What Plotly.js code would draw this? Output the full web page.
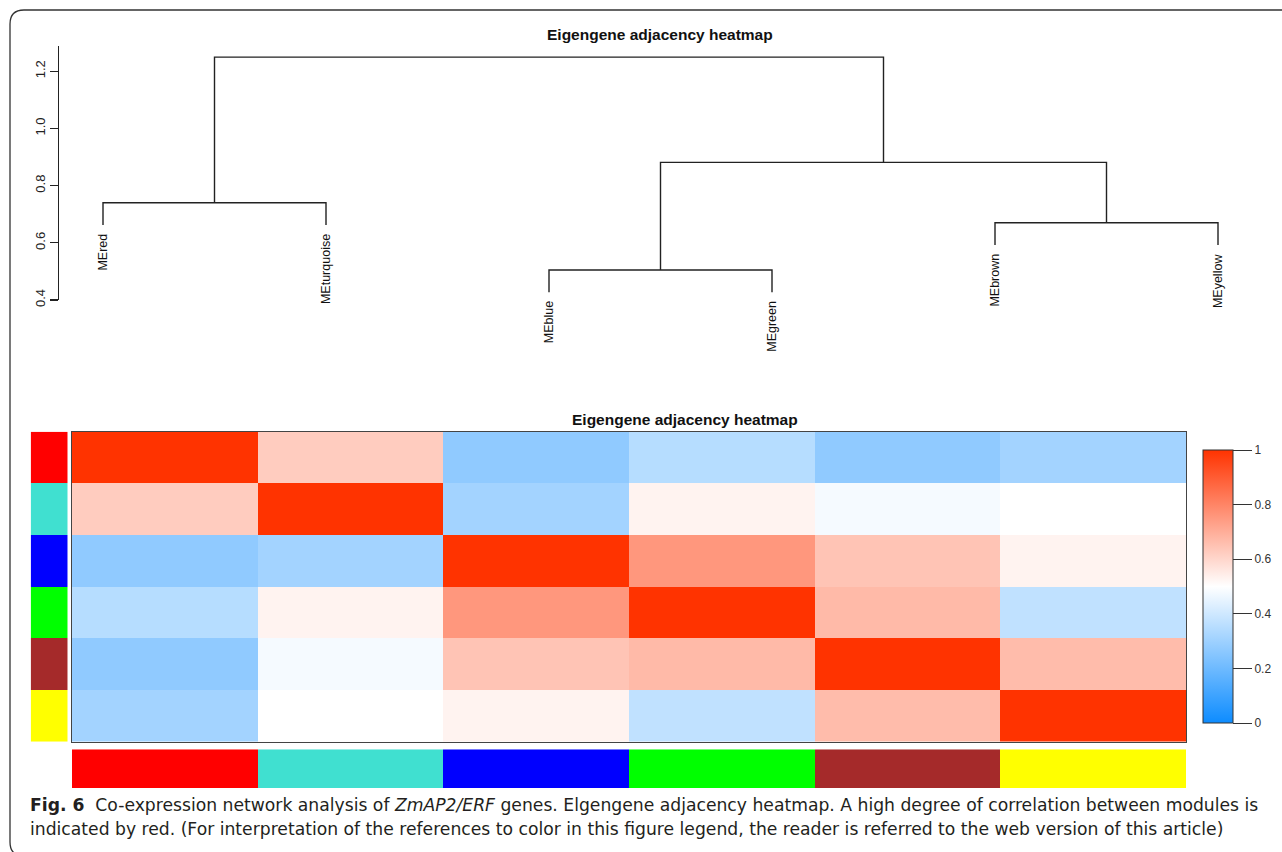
<!DOCTYPE html>
<html>
<head>
<meta charset="utf-8">
<script src="https://cdn.plot.ly/plotly-3.0.1.min.js"></script>
<style>
  html, body { margin: 0; padding: 0; background: #fff; }
  #chart { width: 1282px; height: 852px; }
</style>
</head>
<body>
<div id="chart"></div>
<script>
// ---------------- data ----------------
const modules = ["MEred", "MEturquoise", "MEblue", "MEgreen", "MEbrown", "MEyellow"];
const moduleColors = ["#FF0000", "#40E0D0", "#0000FF", "#00FF00", "#A52A2A", "#FFFF00"];

// eigengene adjacency, rows in module order
const adjRed       = [1.00, 0.625, 0.27, 0.35, 0.27, 0.31];
const adjTurquoise = [0.625, 1.00, 0.31, 0.53, 0.48, 0.50];
const adjBlue      = [0.27, 0.31, 1.00, 0.755, 0.645, 0.53];
const adjGreen     = [0.35, 0.53, 0.755, 1.00, 0.67, 0.37];
const adjBrown     = [0.27, 0.48, 0.645, 0.67, 1.00, 0.665];
const adjYellow    = [0.31, 0.50, 0.53, 0.37, 0.665, 1.00];

// dendrogram (R hclust style merge: negative = leaf index, positive = earlier merge)
const mergeLeft   = [-3, -5, -1, 1, 3];
const mergeRight  = [-4, -6, -2, 2, 4];
const mergeHeight = [0.505, 0.670, 0.740, 0.881, 1.249];
const leafHang = 0.078;

const dendroTicks = [0.4, 0.6, 0.8, 1.0, 1.2];
const dendroTickText = ["0.4", "0.6", "0.8", "1.0", "1.2"];
const cbTicks = [0, 0.2, 0.4, 0.6, 0.8, 1];
const cbTickText = ["0", "0.2", "0.4", "0.6", "0.8", "1"];

// ---------------- helpers ----------------
const W = 1282, H = 852;
const px = v => v / W;
const py = v => 1 - v / H;
const ARIAL = "Liberation Sans, Arial, sans-serif";

// dendrogram geometry from merge data
const leafX = modules.map((m, i) => i + 1);
const nodeX = [], nodeH = [];
const leafBottom = new Array(modules.length).fill(null);
function childPos(c, parentH) {
  if (c < 0) {
    const li = -c - 1;
    leafBottom[li] = parentH - leafHang;
    return [leafX[li], parentH - leafHang];
  }
  return [nodeX[c - 1], nodeH[c - 1]];
}
const dx = [], dy = [];
mergeHeight.forEach((h, k) => {
  const a = childPos(mergeLeft[k], h);
  const b = childPos(mergeRight[k], h);
  dx.push(a[0], a[0], b[0], b[0], null);
  dy.push(a[1], h, h, b[1], null);
  nodeX.push((a[0] + b[0]) / 2);
  nodeH.push(h);
});

const zAdj = [adjRed, adjTurquoise, adjBlue, adjGreen, adjBrown, adjYellow];
const idx = modules.map((m, i) => i);
const colorScaleModules = moduleColors.map((c, i) => [i / (moduleColors.length - 1), c]);

// ---------------- traces ----------------
const traces = [
  {
    type: "scatter", mode: "lines", x: dx, y: dy,
    xaxis: "x", yaxis: "y",
    line: { color: "#222", width: 1.4 },
    hoverinfo: "skip", showlegend: false
  },
  {
    type: "heatmap", z: zAdj, x: idx, y: idx,
    xaxis: "x2", yaxis: "y2",
    zmin: 0, zmax: 1,
    colorscale: [[0, "rgb(13,140,255)"], [0.5, "rgb(255,255,255)"], [1, "rgb(255,51,0)"]],
    colorbar: {
      x: px(1203), xanchor: "left", xpad: 0,
      y: py(586.5), yanchor: "middle", ypad: 0,
      len: 273, lenmode: "pixels",
      thickness: 30, thicknessmode: "pixels",
      outlinewidth: 1, outlinecolor: "#333",
      ticks: "outside", ticklen: 19, tickwidth: 1, tickcolor: "#333",
      tickvals: cbTicks, ticktext: cbTickText,
      tickfont: { family: ARIAL, size: 12, color: "#333" }
    },
    hovertemplate: "%{z}<extra></extra>"
  },
  {
    type: "heatmap", z: idx.map(i => [i]), x: [0], y: idx,
    xaxis: "x3", yaxis: "y3",
    zmin: 0, zmax: moduleColors.length - 1,
    colorscale: colorScaleModules, showscale: false, hoverinfo: "skip"
  },
  {
    type: "heatmap", z: [idx], x: idx, y: [0],
    xaxis: "x4", yaxis: "y4",
    zmin: 0, zmax: moduleColors.length - 1,
    colorscale: colorScaleModules, showscale: false, hoverinfo: "skip"
  }
];

// ---------------- annotations ----------------
const annotations = [];
modules.forEach((m, i) => {
  annotations.push({
    xref: "x", yref: "y", x: leafX[i], y: leafBottom[i],
    text: m, textangle: -90, showarrow: false,
    xanchor: "center", yanchor: "top", yshift: -7,
    font: { family: ARIAL, size: 12.5, color: "#111" }
  });
});
annotations.push({
  xref: "paper", yref: "paper", x: px(660), y: py(34),
  text: "<b>Eigengene adjacency heatmap</b>", showarrow: false,
  xanchor: "center", yanchor: "middle",
  font: { family: ARIAL, size: 15.5, color: "#111" }
});
annotations.push({
  xref: "paper", yref: "paper", x: px(685), y: py(419),
  text: "<b>Eigengene adjacency heatmap</b>", showarrow: false,
  xanchor: "center", yanchor: "middle",
  font: { family: ARIAL, size: 15.5, color: "#111" }
});
const CAP = "DejaVu Sans, Noto Sans, sans-serif";
annotations.push({
  xref: "paper", yref: "paper", x: px(28), y: py(805),
  text: "<b>Fig. 6</b>\u00a0\u00a0Co-expression network analysis of <i>ZmAP2/ERF</i> genes. Elgengene adjacency heatmap. A high degree of correlation between modules is",
  showarrow: false, xanchor: "left", yanchor: "middle", align: "left",
  font: { family: CAP, size: 17.2, color: "#231f20" }
});
annotations.push({
  xref: "paper", yref: "paper", x: px(28), y: py(829),
  text: "indicated by red. (For interpretation of the references to color in this figure legend, the reader is referred to the web version of this article)",
  showarrow: false, xanchor: "left", yanchor: "middle", align: "left",
  font: { family: CAP, size: 17.2, color: "#231f20" }
});

// ---------------- layout ----------------
const hx0 = px(72), hx1 = px(1186);
const hy0 = py(741.7), hy1 = py(431.7);
const dendroXmin = 1 - 103 / 223, dendroXmax = 1 + (W - 103) / 223;

const layout = {
  width: W, height: H,
  margin: { l: 0, r: 0, t: 0, b: 0 },
  paper_bgcolor: "#fff", plot_bgcolor: "rgba(0,0,0,0)",
  showlegend: false,
  xaxis: {
    domain: [0, 1], range: [dendroXmin, dendroXmax],
    visible: false, fixedrange: true
  },
  yaxis: {
    domain: [py(300), py(46)], range: [0.4, 1.288],
    anchor: "free", position: px(58),
    showline: true, linecolor: "#222", linewidth: 1.3,
    ticks: "outside", ticklen: 8, tickwidth: 1.3, tickcolor: "#222",
    tickvals: dendroTicks, ticktext: dendroTickText, tickangle: -90,
    tickfont: { family: ARIAL, size: 13, color: "#222" },
    showgrid: false, zeroline: false, fixedrange: true
  },
  xaxis2: {
    domain: [hx0, hx1], anchor: "y2", range: [-0.5, 5.5],
    showticklabels: false, ticks: "", showgrid: false, zeroline: false,
    showline: true, mirror: true, linecolor: "#444", linewidth: 1.2
  },
  yaxis2: {
    domain: [hy0, hy1], anchor: "x2", range: [5.5, -0.5],
    showticklabels: false, ticks: "", showgrid: false, zeroline: false,
    showline: true, mirror: true, linecolor: "#444", linewidth: 1.2
  },
  xaxis3: {
    domain: [px(30.7), px(67.7)], anchor: "y3", range: [-0.5, 0.5],
    visible: false
  },
  yaxis3: {
    domain: [hy0, hy1], anchor: "x3", range: [5.5, -0.5],
    visible: false
  },
  xaxis4: {
    domain: [hx0, hx1], anchor: "y4", range: [-0.5, 5.5],
    visible: false
  },
  yaxis4: {
    domain: [py(788), py(749.3)], anchor: "x4", range: [-0.5, 0.5],
    visible: false
  },
  annotations: annotations,
  shapes: [{
    type: "path", xref: "paper", yref: "paper",
    path: `M ${px(1290)},${py(10)} L ${px(24)},${py(10)} Q ${px(10)},${py(10)} ${px(10)},${py(24)} L ${px(10)},${py(842)} Q ${px(10)},${py(856)} ${px(24)},${py(856)} L ${px(1290)},${py(856)}`,
    line: { color: "#333", width: 1.3 }
  }]
};

Plotly.newPlot("chart", traces, layout, { displayModeBar: false, staticPlot: true });
</script>
</body>
</html>
